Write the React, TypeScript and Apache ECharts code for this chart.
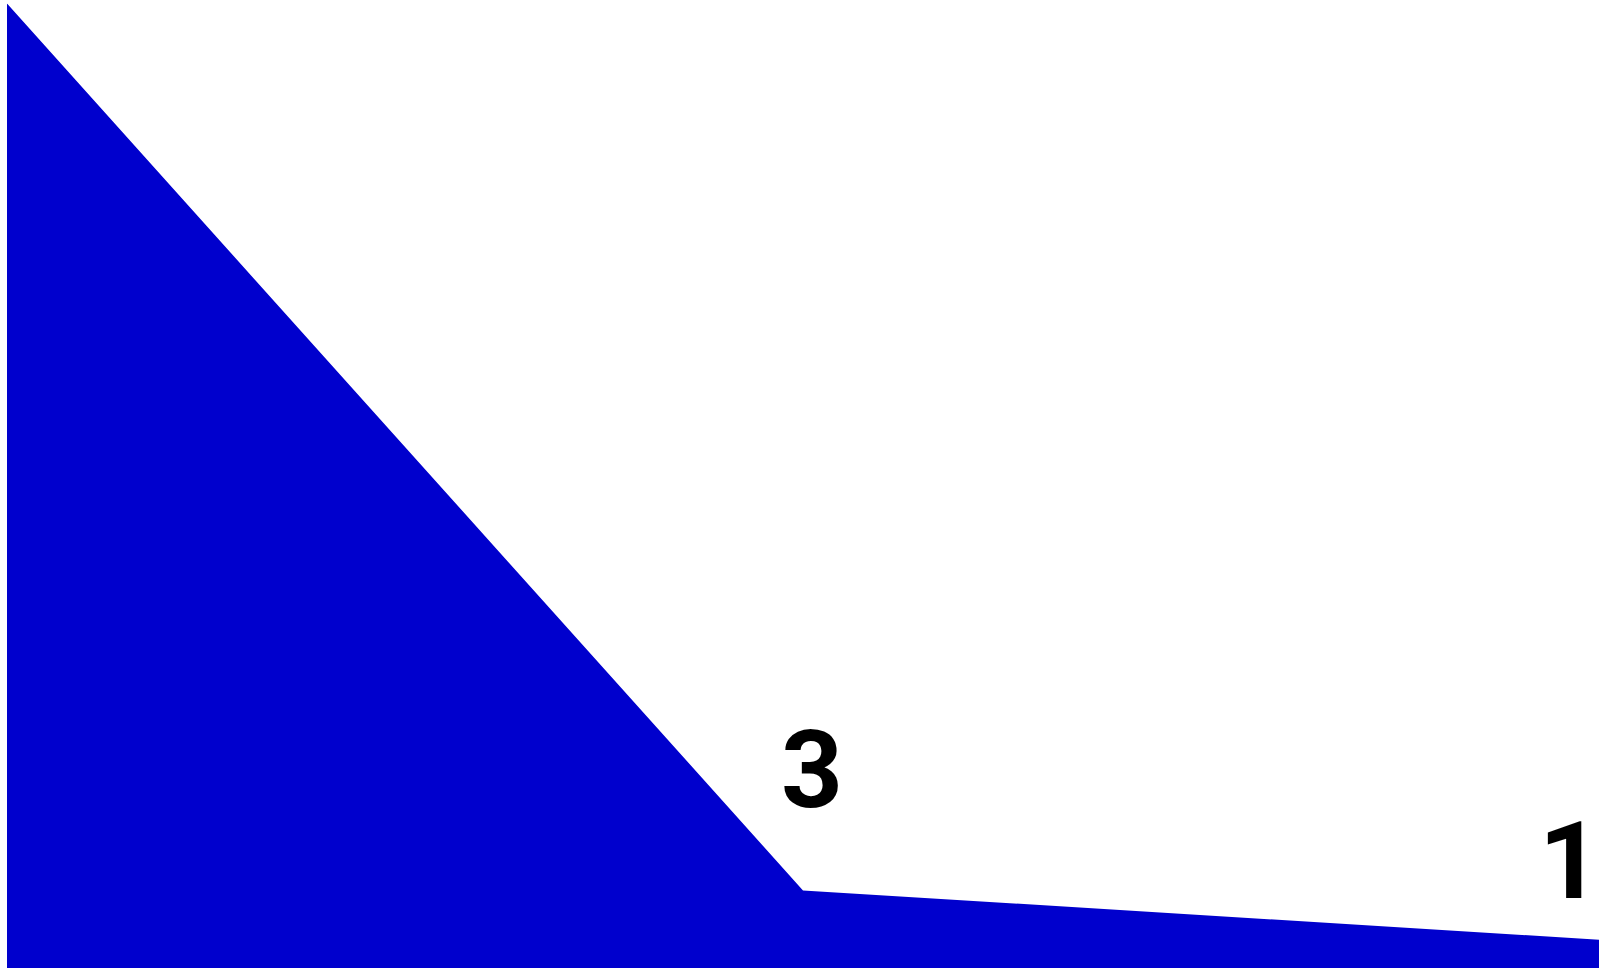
import React, { useEffect, useRef } from "react";
import * as echarts from "echarts";

const categories = ["A", "B", "C"];
const values = [39, 3, 1];
const labelShown = [false, true, true];
const labelOffsets: [number, number][] = [
  [0, 0],
  [9, -61],
  [-29, -19.5],
];

export default function App() {
  const ref = useRef<HTMLDivElement>(null);
  useEffect(() => {
    if (!ref.current) return;
    const chart = echarts.init(ref.current, undefined, { renderer: "svg" });
    chart.setOption({
      animation: false,
      grid: { left: 7, right: 2, top: 3.5, bottom: 0 },
      xAxis: {
        type: "category",
        data: categories,
        boundaryGap: false,
        show: false,
      },
      yAxis: {
        type: "value",
        min: -0.15,
        max: 39,
        show: false,
        splitLine: { show: false },
      },
      series: [
        {
          type: "line",
          data: values.map((v, i) => ({
            value: v,
            label: { show: labelShown[i], offset: labelOffsets[i] },
          })),
          symbol: "circle",
          symbolSize: 0.5,
          showSymbol: true,
          lineStyle: { color: "#0000CD", width: 0 },
          itemStyle: { color: "#0000CD", opacity: 0 },
          areaStyle: { color: "#0000CD", opacity: 1, origin: "start" },
          label: {
            show: true,
            position: "top",
            fontSize: 108,
            fontWeight: "bold",
            fontFamily: "Roboto",
            color: "#000000",
            opacity: 1,
          },
        },
      ],
    });
    return () => chart.dispose();
  }, []);
  return (
    <div
      ref={ref}
      style={{ position: "absolute", left: 0, top: 0, width: 1601, height: 968 }}
    />
  );
}
